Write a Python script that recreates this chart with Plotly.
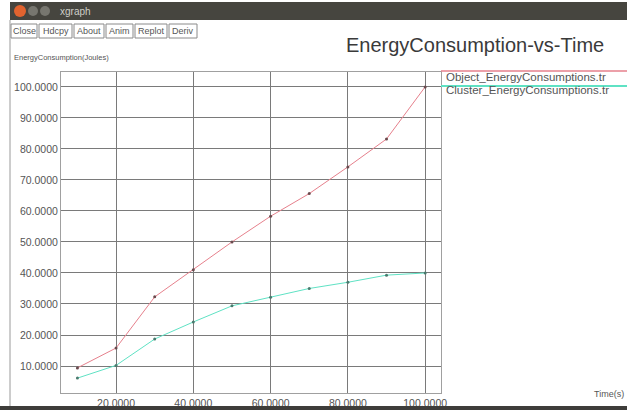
import plotly.graph_objects as go

# ---- data ----
time_s = [10, 20, 30, 40, 50, 60, 70, 80, 90, 100]
object_energy = [9.4, 15.8, 32.3, 41.0, 50.0, 58.3, 65.6, 74.2, 83.2, 100.0]
cluster_energy = [6.1, 10.2, 18.7, 24.2, 29.4, 32.2, 35.0, 37.0, 39.3, 40.0]
x_ticks = [20, 40, 60, 80, 100]
y_ticks = [10, 20, 30, 40, 50, 60, 70, 80, 90, 100]
x_tick_text = ["20.0000", "40.0000", "60.0000", "80.0000", "100.0000"]
y_tick_text = ["10.0000", "20.0000", "30.0000", "40.0000", "50.0000",
               "60.0000", "70.0000", "80.0000", "90.0000", "100.0000"]
series_names = ["Object_EnergyConsumptions.tr", "Cluster_EnergyConsumptions.tr"]
buttons = ["Close", "Hdcpy", "About", "Anim", "Replot", "Deriv"]

W, H = 627, 410
L, R, T, B = 61, 441, 72, 393


def px(x):
    return (x - L) / (R - L)


def py(y):
    return (B - y) / (B - T)


RED = "#e6808c"
CYAN = "#5fe2c4"
FONT = "Liberation Sans"

fig = go.Figure()
fig.add_trace(go.Scatter(x=time_s, y=object_energy, mode="lines+markers",
                         line=dict(color=RED, width=1),
                         marker=dict(color="#6a4a4e", size=3), name=series_names[0]))
fig.add_trace(go.Scatter(x=time_s, y=cluster_energy, mode="lines+markers",
                         line=dict(color=CYAN, width=1),
                         marker=dict(color="#4a7a6e", size=3), name=series_names[1]))

shapes = []
annotations = []

# window title bar
shapes.append(dict(type="rect", xref="paper", yref="paper", x0=px(10), x1=px(627),
                   y0=py(20), y1=py(2), fillcolor="#46453f", line=dict(width=0), layer="below"))
shapes.append(dict(type="circle", xref="paper", yref="paper", x0=px(14), x1=px(26),
                   y0=py(17), y1=py(5), fillcolor="#e2632f", line=dict(width=0)))
for cx in (33, 45):
    shapes.append(dict(type="circle", xref="paper", yref="paper", x0=px(cx - 5), x1=px(cx + 5),
                       y0=py(16), y1=py(6), fillcolor="#77766f", line=dict(width=0)))
annotations.append(dict(xref="paper", yref="paper", x=px(58), y=py(11), text="xgraph",
                        showarrow=False, xanchor="left", yanchor="middle",
                        font=dict(family=FONT, size=10, color="#cfcfc8")))

# buttons row
bx = [(11, 37), (39, 72), (74, 104), (106, 133), (135, 167), (169, 197)]
for (a, b), lab in zip(bx, buttons):
    shapes.append(dict(type="rect", xref="paper", yref="paper", x0=px(a), x1=px(b),
                       y0=py(38), y1=py(24), fillcolor="#ffffff",
                       line=dict(color="#8a8a8a", width=1)))
    annotations.append(dict(xref="paper", yref="paper", x=px((a + b) / 2), y=py(31), text=lab,
                            showarrow=False, xanchor="center", yanchor="middle",
                            font=dict(family=FONT, size=9, color="#555")))

# title and axis labels
annotations.append(dict(xref="paper", yref="paper", x=px(344), y=py(45),
                        text="EnergyConsumption-vs-Time", showarrow=False,
                        xanchor="left", yanchor="middle",
                        font=dict(family=FONT, size=20, color="#3a3a3a")))
annotations.append(dict(xref="paper", yref="paper", x=px(12), y=py(57),
                        text="EnergyConsumption(Joules)", showarrow=False,
                        xanchor="left", yanchor="middle",
                        font=dict(family=FONT, size=7.5, color="#555")))
annotations.append(dict(xref="paper", yref="paper", x=px(626), y=py(394),
                        text="Time(s)", showarrow=False,
                        xanchor="right", yanchor="middle",
                        font=dict(family=FONT, size=9, color="#555")))

# legend (xgraph style)
shapes.append(dict(type="line", xref="paper", yref="paper", x0=px(441), x1=px(627),
                   y0=py(71), y1=py(71), line=dict(color=RED, width=1.5)))
shapes.append(dict(type="line", xref="paper", yref="paper", x0=px(441), x1=px(627),
                   y0=py(86), y1=py(86), line=dict(color=CYAN, width=2)))
annotations.append(dict(xref="paper", yref="paper", x=px(444), y=py(77.5), text=series_names[0],
                        showarrow=False, xanchor="left", yanchor="middle",
                        font=dict(family=FONT, size=11.5, color="#555")))
annotations.append(dict(xref="paper", yref="paper", x=px(444), y=py(90), text=series_names[1],
                        showarrow=False, xanchor="left", yanchor="middle",
                        font=dict(family=FONT, size=11.5, color="#555")))

# bottom dark border and left edge
shapes.append(dict(type="rect", xref="paper", yref="paper", x0=px(0), x1=px(627),
                   y0=py(410), y1=py(406), fillcolor="#3e3d3a", line=dict(width=0)))
shapes.append(dict(type="line", xref="paper", yref="paper", x0=px(10), x1=px(10),
                   y0=py(406), y1=py(20), line=dict(color="#9a9a9a", width=1)))

fig.update_layout(
    width=W, height=H,
    margin=dict(l=L, r=W - R, t=T, b=H - B, pad=0, autoexpand=False),
    paper_bgcolor="white", plot_bgcolor="white",
    showlegend=False,
    shapes=shapes, annotations=annotations,
    font=dict(family=FONT, size=9, color="#444"),
)
fig.update_xaxes(range=[5.75, 104.1], tickvals=x_ticks, ticktext=x_tick_text,
                 showgrid=True, gridcolor="#7a7a7a", gridwidth=1, zeroline=False,
                 showline=True, linecolor="#a0a0a0", mirror=True, ticks="",
                 tickfont=dict(family=FONT, size=10.5, color="#555"))
fig.update_yaxes(range=[1.3, 104.8], tickvals=y_ticks, ticktext=y_tick_text,
                 showgrid=True, gridcolor="#7a7a7a", gridwidth=1, zeroline=False,
                 showline=True, linecolor="#a0a0a0", mirror=True, ticks="",
                 tickfont=dict(family=FONT, size=10.5, color="#555"))

fig.write_html("out.html", config={"displayModeBar": False},
               post_script="document.body.style.margin='0';document.body.style.overflow='hidden';")
